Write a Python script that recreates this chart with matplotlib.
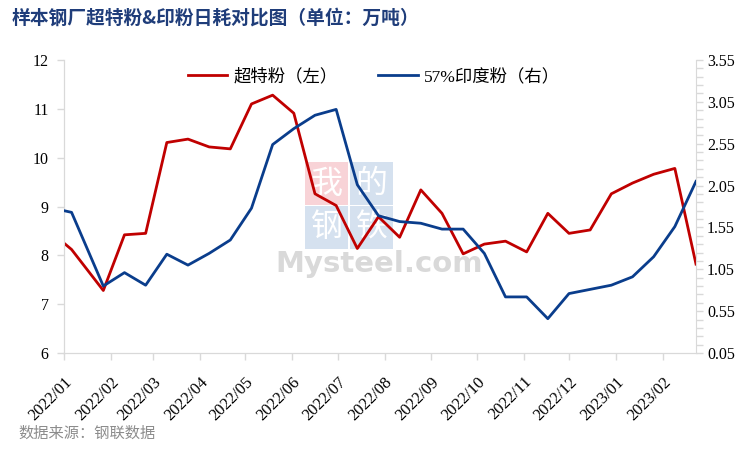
import pandas as pd
import matplotlib
matplotlib.use("Agg")
import matplotlib.pyplot as plt
import matplotlib.dates as mdates
from matplotlib.patches import Rectangle
from matplotlib.ticker import MultipleLocator, FixedLocator

plt.rcParams['font.family'] = ['Liberation Serif', 'Noto Sans CJK SC']
plt.rcParams['axes.unicode_minus'] = False

# 数据：双周日耗
dates = ['2022-01-01', '2022-01-06', '2022-01-27', '2022-02-10', '2022-02-24',
         '2022-03-10', '2022-03-24', '2022-04-07', '2022-04-21', '2022-05-05',
         '2022-05-19', '2022-06-02', '2022-06-16', '2022-06-30', '2022-07-14',
         '2022-07-28', '2022-08-11', '2022-08-25', '2022-09-08', '2022-09-22',
         '2022-10-06', '2022-10-20', '2022-11-03', '2022-11-17', '2022-12-01',
         '2022-12-15', '2022-12-29', '2023-01-12', '2023-01-26', '2023-02-09',
         '2023-02-23']
chaote = [8.25, 8.12, 7.28, 8.42, 8.45, 10.31, 10.38, 10.22, 10.18, 11.10,
          11.28, 10.91, 9.26, 9.02, 8.14, 8.79, 8.37, 9.34, 8.86, 8.03,
          8.23, 8.29, 8.07, 8.86, 8.45, 8.52, 9.26, 9.48, 9.66, 9.78, 7.82]
yindu = [1.75, 1.73, 0.85, 1.01, 0.86, 1.23, 1.10, 1.24, 1.40, 1.78,
         2.54, 2.73, 2.89, 2.96, 2.06, 1.69, 1.62, 1.60, 1.53, 1.53,
         1.24, 0.72, 0.72, 0.46, 0.76, 0.81, 0.86, 0.96, 1.20, 1.56, 2.10]
x = pd.to_datetime(dates)

red = '#C00000'
blue = '#0A3D8C'
grey = '#D9D9D9'

fig = plt.figure(figsize=(7.5, 4.51), dpi=100)
ax1 = fig.add_axes([64/750, 1-353/451, 632/750, 293/451])
ax2 = ax1.twinx()

# 水印
boxes = [('我', 305, 162, '#F8D3D7'), ('的', 350, 162, '#D5E1EF'),
         ('钢', 305, 206, '#D5E1EF'), ('铁', 350, 206, '#D5E1EF')]
for ch, bx, by, c in boxes:
    ax1.add_patch(Rectangle((bx/750, 1-(by+43)/451), 43/750, 43/451,
                            transform=fig.transFigure, color=c, zorder=0, lw=0))
    ax1.text((bx+21.5)/750, 1-(by+21.5)/451, ch, transform=fig.transFigure,
             ha='center', va='center', fontsize=23, color='white',
             family='Noto Sans CJK SC', zorder=0.5)
ax1.text(275/750, 1-272/451, 'Mysteel.com', transform=fig.transFigure,
         fontsize=21, color='#D9D9D9', family='DejaVu Sans', weight='bold',
         va='baseline', zorder=0.5)

l1, = ax1.plot(x, chaote, color=red, lw=2.0, label='超特粉（左）', zorder=3)
l2, = ax2.plot(x, yindu, color=blue, lw=2.0, label='57%印度粉（右）', zorder=3)

ax1.set_xlim(x[0], x[-1])
ax1.set_ylim(6, 12)
ax1.yaxis.set_major_locator(MultipleLocator(1))
ax2.set_ylim(0.05, 3.55)
ax2.yaxis.set_major_locator(FixedLocator([0.05 + 0.5*i for i in range(8)]))
ax2.yaxis.set_minor_locator(FixedLocator([0.05 + 0.1*i for i in range(36)]))
ax2.yaxis.set_major_formatter(plt.FuncFormatter(lambda v, p: '%.2f' % v))

ax1.xaxis.set_major_locator(mdates.MonthLocator())
ax1.xaxis.set_major_formatter(mdates.DateFormatter('%Y/%m'))

for a in (ax1, ax2):
    for s in a.spines.values():
        s.set_color(grey)
    a.spines['top'].set_visible(False)
ax1.spines['right'].set_visible(False)

ax1.tick_params(axis='y', direction='out', length=5, width=1, color=grey,
                labelsize=11.5, pad=6)
ax1.tick_params(axis='x', direction='out', length=5, width=1, color=grey,
                labelsize=12, pad=10)
ax2.tick_params(axis='y', which='both', direction='out', length=5, width=1,
                color=grey, labelsize=11.5, pad=3)
for lab in ax1.get_xticklabels():
    lab.set_rotation(45)
    lab.set_ha('right')
    lab.set_va('top')
    lab.set_rotation_mode('anchor')
    lab.set_fontfamily('Liberation Serif')
for lab in ax1.get_yticklabels() + ax2.get_yticklabels():
    lab.set_fontfamily('Liberation Serif')

ax1.legend(handles=[l1, l2], loc='upper center', bbox_to_anchor=(0.49, 1.0),
           ncol=2, frameon=False, fontsize=12.5, handlelength=2.3,
           columnspacing=2.3, handletextpad=0.35, borderaxespad=0.1)

fig.text(12/750, 1-18/451, '样本钢厂超特粉&印粉日耗对比图（单位：万吨）',
         fontsize=13.5, weight='bold', color='#1F3D7A', va='center',
         family=['Noto Sans CJK SC', 'DejaVu Sans'])
fig.text(18/750, 1-433/451, '数据来源：钢联数据', fontsize=11, color='#8C8C8C',
         va='center', family=['Noto Sans CJK SC', 'DejaVu Sans'])

fig.savefig('out.png', dpi=100)
